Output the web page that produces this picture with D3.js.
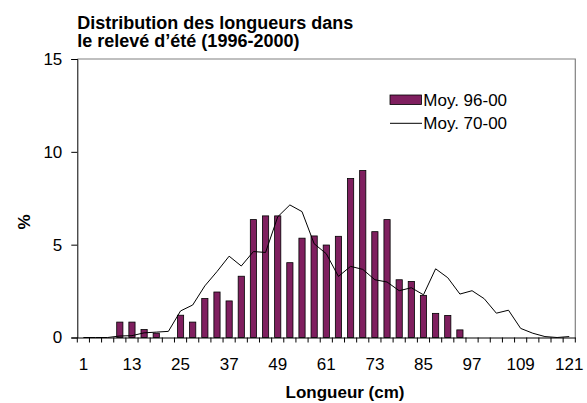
<!DOCTYPE html>
<html><head><meta charset="utf-8">
<script src="https://cdn.jsdelivr.net/npm/d3@7"></script>
<style>body{margin:0;background:#fff;} svg{display:block;font-family:"Liberation Sans",Arial,sans-serif;}</style>
</head><body><svg id="c" width="587" height="403"></svg>
<script>
const categories = [1,4,7,10,13,16,19,22,25,28,31,34,37,40,43,46,49,52,55,58,61,64,67,70,73,76,79,82,85,88,91,94,97,100,103,106,109,112,115,118,121];
const moy9600 = [0,0,0,0.83,0.83,0.43,0.23,0,1.2,0.83,2.1,2.45,1.97,3.3,6.35,6.55,6.55,4.03,5.35,5.47,4.98,5.45,8.56,8.99,5.7,6.35,3.11,3.02,2.27,1.3,1.19,0.41,0,0,0,0,0,0,0,0,0];
const moy7000 = [0,0,0,0.08,0.1,0.25,0.29,0.33,1.43,1.75,2.78,3.55,4.38,3.85,4.63,4.58,6.5,7.14,6.78,5.05,4.51,3.29,3.83,3.67,3.11,2.99,2.52,2.68,2.3,3.7,3.22,2.34,2.52,2.09,1.31,1.47,0.49,0.23,0.05,0,0.05];
const xTickLabels = [1,13,25,37,49,61,73,85,97,109,121];
const yTicks = [0,5,10,15];
const seriesNames = ["Moy. 96-00","Moy. 70-00"];
const titleLines = ["Distribution des longueurs dans","le relevé d\u2019été (1996-2000)"];

const svg = d3.select("#c");
const L=77.3, R=575.3, T=59, B=337.5;
const x = d3.scaleBand().domain(categories).range([L,R]).padding(0);
const y = d3.scaleLinear().domain([0,15]).range([B,T]);
const bw = 6.2;

// plot border (top/right gray)
svg.append("path").attr("d",`M${L},${T}H${R}V${B}`).attr("fill","none").attr("stroke","#808080").attr("stroke-width",1.2);

// bars
svg.append("g").selectAll("rect").data(categories.map((c,i)=>({c,v:moy9600[i]})).filter(d=>d.v>0))
  .join("rect")
  .attr("x",d=>x(d.c)+x.bandwidth()/2-bw/2)
  .attr("y",d=>y(d.v))
  .attr("width",bw)
  .attr("height",d=>y(0)-y(d.v))
  .attr("fill","#7f1f5f").attr("stroke","#000").attr("stroke-width",0.8);

// line
const line = d3.line().x((d,i)=>x(categories[i])+x.bandwidth()/2).y(d=>y(d));
svg.append("path").datum(moy7000).attr("d",line).attr("fill","none").attr("stroke","#000").attr("stroke-width",1);

// y axis
const ya = svg.append("g").attr("transform",`translate(${L},0)`)
  .call(d3.axisLeft(y).tickValues(yTicks).tickSize(6).tickPadding(9).tickFormat(d3.format("d")));
ya.select(".domain").attr("stroke","#000");
ya.selectAll("text").attr("font-size",17).attr("font-family","Liberation Sans, Arial, sans-serif").attr("fill","#000");

// x axis
const xa = svg.append("g").attr("transform",`translate(0,${B})`)
  .call(d3.axisBottom(x).tickValues(xTickLabels).tickSize(0).tickPadding(20));
xa.select(".domain").attr("stroke","#000");
xa.selectAll("text").attr("font-size",17).attr("font-family","Liberation Sans, Arial, sans-serif").attr("fill","#000");
xa.selectAll(".tick line").remove();
xa.append("g").selectAll("line").data(categories.concat([null]))
  .join("line")
  .attr("x1",(d,i)=> d===null? R : x(d)).attr("x2",(d,i)=> d===null? R : x(d))
  .attr("y1",0).attr("y2",5).attr("stroke","#000");

// titles
const tt = svg.append("text").attr("font-weight","bold").attr("font-size",18).attr("fill","#000");
tt.selectAll("tspan").data(titleLines).join("tspan").attr("x",L).attr("y",(d,i)=>28.5+i*18.5).text(d=>d);
svg.append("text").attr("x",345).attr("y",398).attr("text-anchor","middle").attr("font-weight","bold").attr("font-size",17).text("Longueur (cm)");
svg.append("text").attr("transform","translate(30,222) rotate(-90)").attr("text-anchor","middle").attr("font-weight","bold").attr("font-size",17).text("%");

// legend
const lg = svg.append("g");
lg.append("rect").attr("x",390).attr("y",95).attr("width",31.5).attr("height",9.5).attr("fill","#7f1f5f").attr("stroke","#000").attr("stroke-width",0.8);
lg.append("line").attr("x1",390).attr("x2",422).attr("y1",123.3).attr("y2",123.3).attr("stroke","#000");
lg.selectAll("text").data(seriesNames).join("text").attr("x",423.3).attr("y",(d,i)=>100+i*23.5).attr("dy","0.35em").attr("font-size",17).text(d=>d);
</script></body></html>
